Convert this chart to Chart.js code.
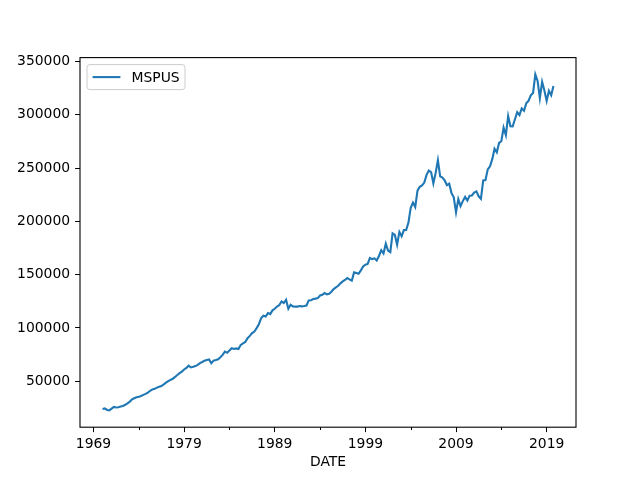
<!DOCTYPE html>
<html>
<head>
<meta charset="utf-8">
<script src="https://cdn.jsdelivr.net/npm/chart.js@4"></script>
<style>
  html, body { margin: 0; padding: 0; background: #fff; }
  #wrap { width: 640px; height: 480px; }
</style>
</head>
<body>
<div id="wrap"><canvas id="MspusChart" width="640" height="480"></canvas></div>
<script>
  // quarterly median sales price, 1970 Q1 .. 2019 Q4
  const startYear = 1970;
  const mspus1970s = [
    23900, 24400, 23000, 22600, 24300, 25800, 25300, 25500, 26200, 26800,
    27900, 29300, 30800, 32900, 34000, 34900, 35500, 36200, 37200, 38100,
    39300, 41000, 42300, 42800, 44000, 44800, 45500, 47000, 48600, 50000,
    51200, 52300, 54000, 55800, 57600, 59000, 61000, 62500, 64600, 62900
  ];
  const mspus1980s = [
    63500, 64200, 65300, 67000, 68000, 69300, 70000, 70500, 66900, 69300,
    69800, 70600, 72500, 74700, 77800, 76800, 78800, 81000, 80200, 80800,
    80200, 84100, 85500, 86800, 90400, 92500, 95100, 96600, 99800, 103500,
    109200, 111400, 110700, 113900, 113000, 116500, 118000, 120000, 121500, 124900
  ];
  const mspus1990s = [
    123400, 126500, 118000, 121800, 120200, 120000, 120000, 120500, 120200, 120500,
    121000, 125800, 126000, 127100, 127500, 128000, 130400, 131100, 132700, 131500,
    132000, 134000, 136500, 138000, 139500, 141800, 143600, 145000, 146800, 145500,
    144300, 152100, 151500, 150800, 154000, 157700, 159300, 160000, 165600, 164600
  ];
  const mspus2000s = [
    165300, 163200, 167500, 172900, 169800, 179000, 172500, 171100, 188700, 187200,
    178100, 190100, 186000, 191800, 191900, 198800, 212700, 217600, 213500, 228800,
    232500, 233700, 236400, 243600, 247700, 246300, 235600, 245400, 257400, 242200,
    241000, 238400, 233900, 235300, 226500, 222500, 208400, 220900, 214300, 219000
  ];
  const mspus2010s = [
    222900, 219500, 224100, 224300, 226900, 228100, 223500, 221100, 238400, 238700,
    248800, 251700, 258400, 268100, 264800, 273600, 275200, 288000, 281000, 298900,
    289200, 289100, 295800, 302500, 299800, 306000, 303800, 310900, 313100, 318200,
    320500, 337900, 331800, 315600, 330900, 322800, 313000, 322500, 318400, 327100
  ];
  const majorYears = [1969, 1979, 1989, 1999, 2009, 2019];
  const minorYears = [1974, 1984, 1994, 2004, 2014];
  const yTicks = [50000, 100000, 150000, 200000, 250000, 300000, 350000];

  const mspus = [].concat(mspus1970s, mspus1980s, mspus1990s, mspus2000s, mspus2010s);
  const points = mspus.map((v, i) => ({ x: startYear + i / 4, y: v }));

  // matplotlib style 5% margins
  const xLo = points[0].x, xHi = points[points.length - 1].x;
  const yLo = Math.min(...mspus), yHi = Math.max(...mspus);
  const xPad = (xHi - xLo) * 0.05, yPad = (yHi - yLo) * 0.05;

  const FONT = 'DejaVu Sans';
  Chart.defaults.font.family = FONT;
  Chart.defaults.font.size = 13.9;
  Chart.defaults.color = '#000';

  // frame, minor ticks and legend box
  const mplExtras = {
    id: 'mplExtras',
    afterDraw(chart) {
      const ctx = chart.ctx, a = chart.chartArea, xs = chart.scales.x;
      ctx.save();
      ctx.strokeStyle = '#000';
      ctx.lineWidth = 1.1;
      ctx.strokeRect(a.left, a.top, a.right - a.left, a.bottom - a.top);
      ctx.lineWidth = 1;
      minorYears.forEach(yr => {
        const px = Math.round(xs.getPixelForValue(yr)) + 0.5;
        ctx.beginPath();
        ctx.moveTo(px, a.bottom);
        ctx.lineTo(px, a.bottom + 2.8);
        ctx.stroke();
      });

      // legend
      const bx = a.left + 7, by = a.top + 7, bw = 98, bh = 25, r = 3;
      ctx.beginPath();
      ctx.moveTo(bx + r, by);
      ctx.arcTo(bx + bw, by, bx + bw, by + bh, r);
      ctx.arcTo(bx + bw, by + bh, bx, by + bh, r);
      ctx.arcTo(bx, by + bh, bx, by, r);
      ctx.arcTo(bx, by, bx + bw, by, r);
      ctx.closePath();
      ctx.fillStyle = 'rgba(255,255,255,0.8)';
      ctx.fill();
      ctx.strokeStyle = '#cccccc';
      ctx.lineWidth = 1;
      ctx.stroke();
      const ly = by + bh / 2;
      ctx.strokeStyle = '#1f77b4';
      ctx.lineWidth = 2.1;
      ctx.beginPath();
      ctx.moveTo(bx + 5.6, ly);
      ctx.lineTo(bx + 33.4, ly);
      ctx.stroke();
      ctx.fillStyle = '#000';
      ctx.font = '13.9px "' + FONT + '"';
      ctx.textBaseline = 'middle';
      ctx.textAlign = 'left';
      ctx.fillText('MSPUS', bx + 44.5, ly + 1);
      ctx.restore();
    }
  };

  const MspusConfig = {
    type: 'line',
    data: {
      datasets: [{
        label: 'MSPUS',
        data: points,
        borderColor: '#1f77b4',
        borderWidth: 2.1,
        pointRadius: 0,
        tension: 0,
        fill: false
      }]
    },
    options: {
      responsive: false,
      animation: false,
      events: [],
      layout: { padding: { top: 57.6, right: 64, left: 0, bottom: 0 } },
      plugins: { legend: { display: false }, tooltip: { enabled: false } },
      scales: {
        x: {
          type: 'linear',
          min: xLo - xPad,
          max: xHi + xPad,
          afterBuildTicks: s => { s.ticks = majorYears.map(v => ({ value: v })); },
          afterFit: s => { s.height = 480 - 427.2; },
          ticks: { padding: 4, maxRotation: 0, autoSkip: false, callback: v => String(v) },
          grid: { drawOnChartArea: false, tickLength: 4.9, tickColor: '#000', tickWidth: 1 },
          border: { display: false },
          title: { display: true, text: 'DATE', padding: { top: 4, bottom: 9.5 } }
        },
        y: {
          type: 'linear',
          min: yLo - yPad,
          max: yHi + yPad,
          afterBuildTicks: s => { s.ticks = yTicks.map(v => ({ value: v })); },
          afterFit: s => { s.width = 80; },
          ticks: { padding: 5, callback: v => String(v) },
          grid: { drawOnChartArea: false, tickLength: 4.9, tickColor: '#000', tickWidth: 1 },
          border: { display: false }
        }
      }
    },
    plugins: [mplExtras]
  };

  const MspusChart = new Chart(document.getElementById('MspusChart'), MspusConfig);
</script>
</body>
</html>
